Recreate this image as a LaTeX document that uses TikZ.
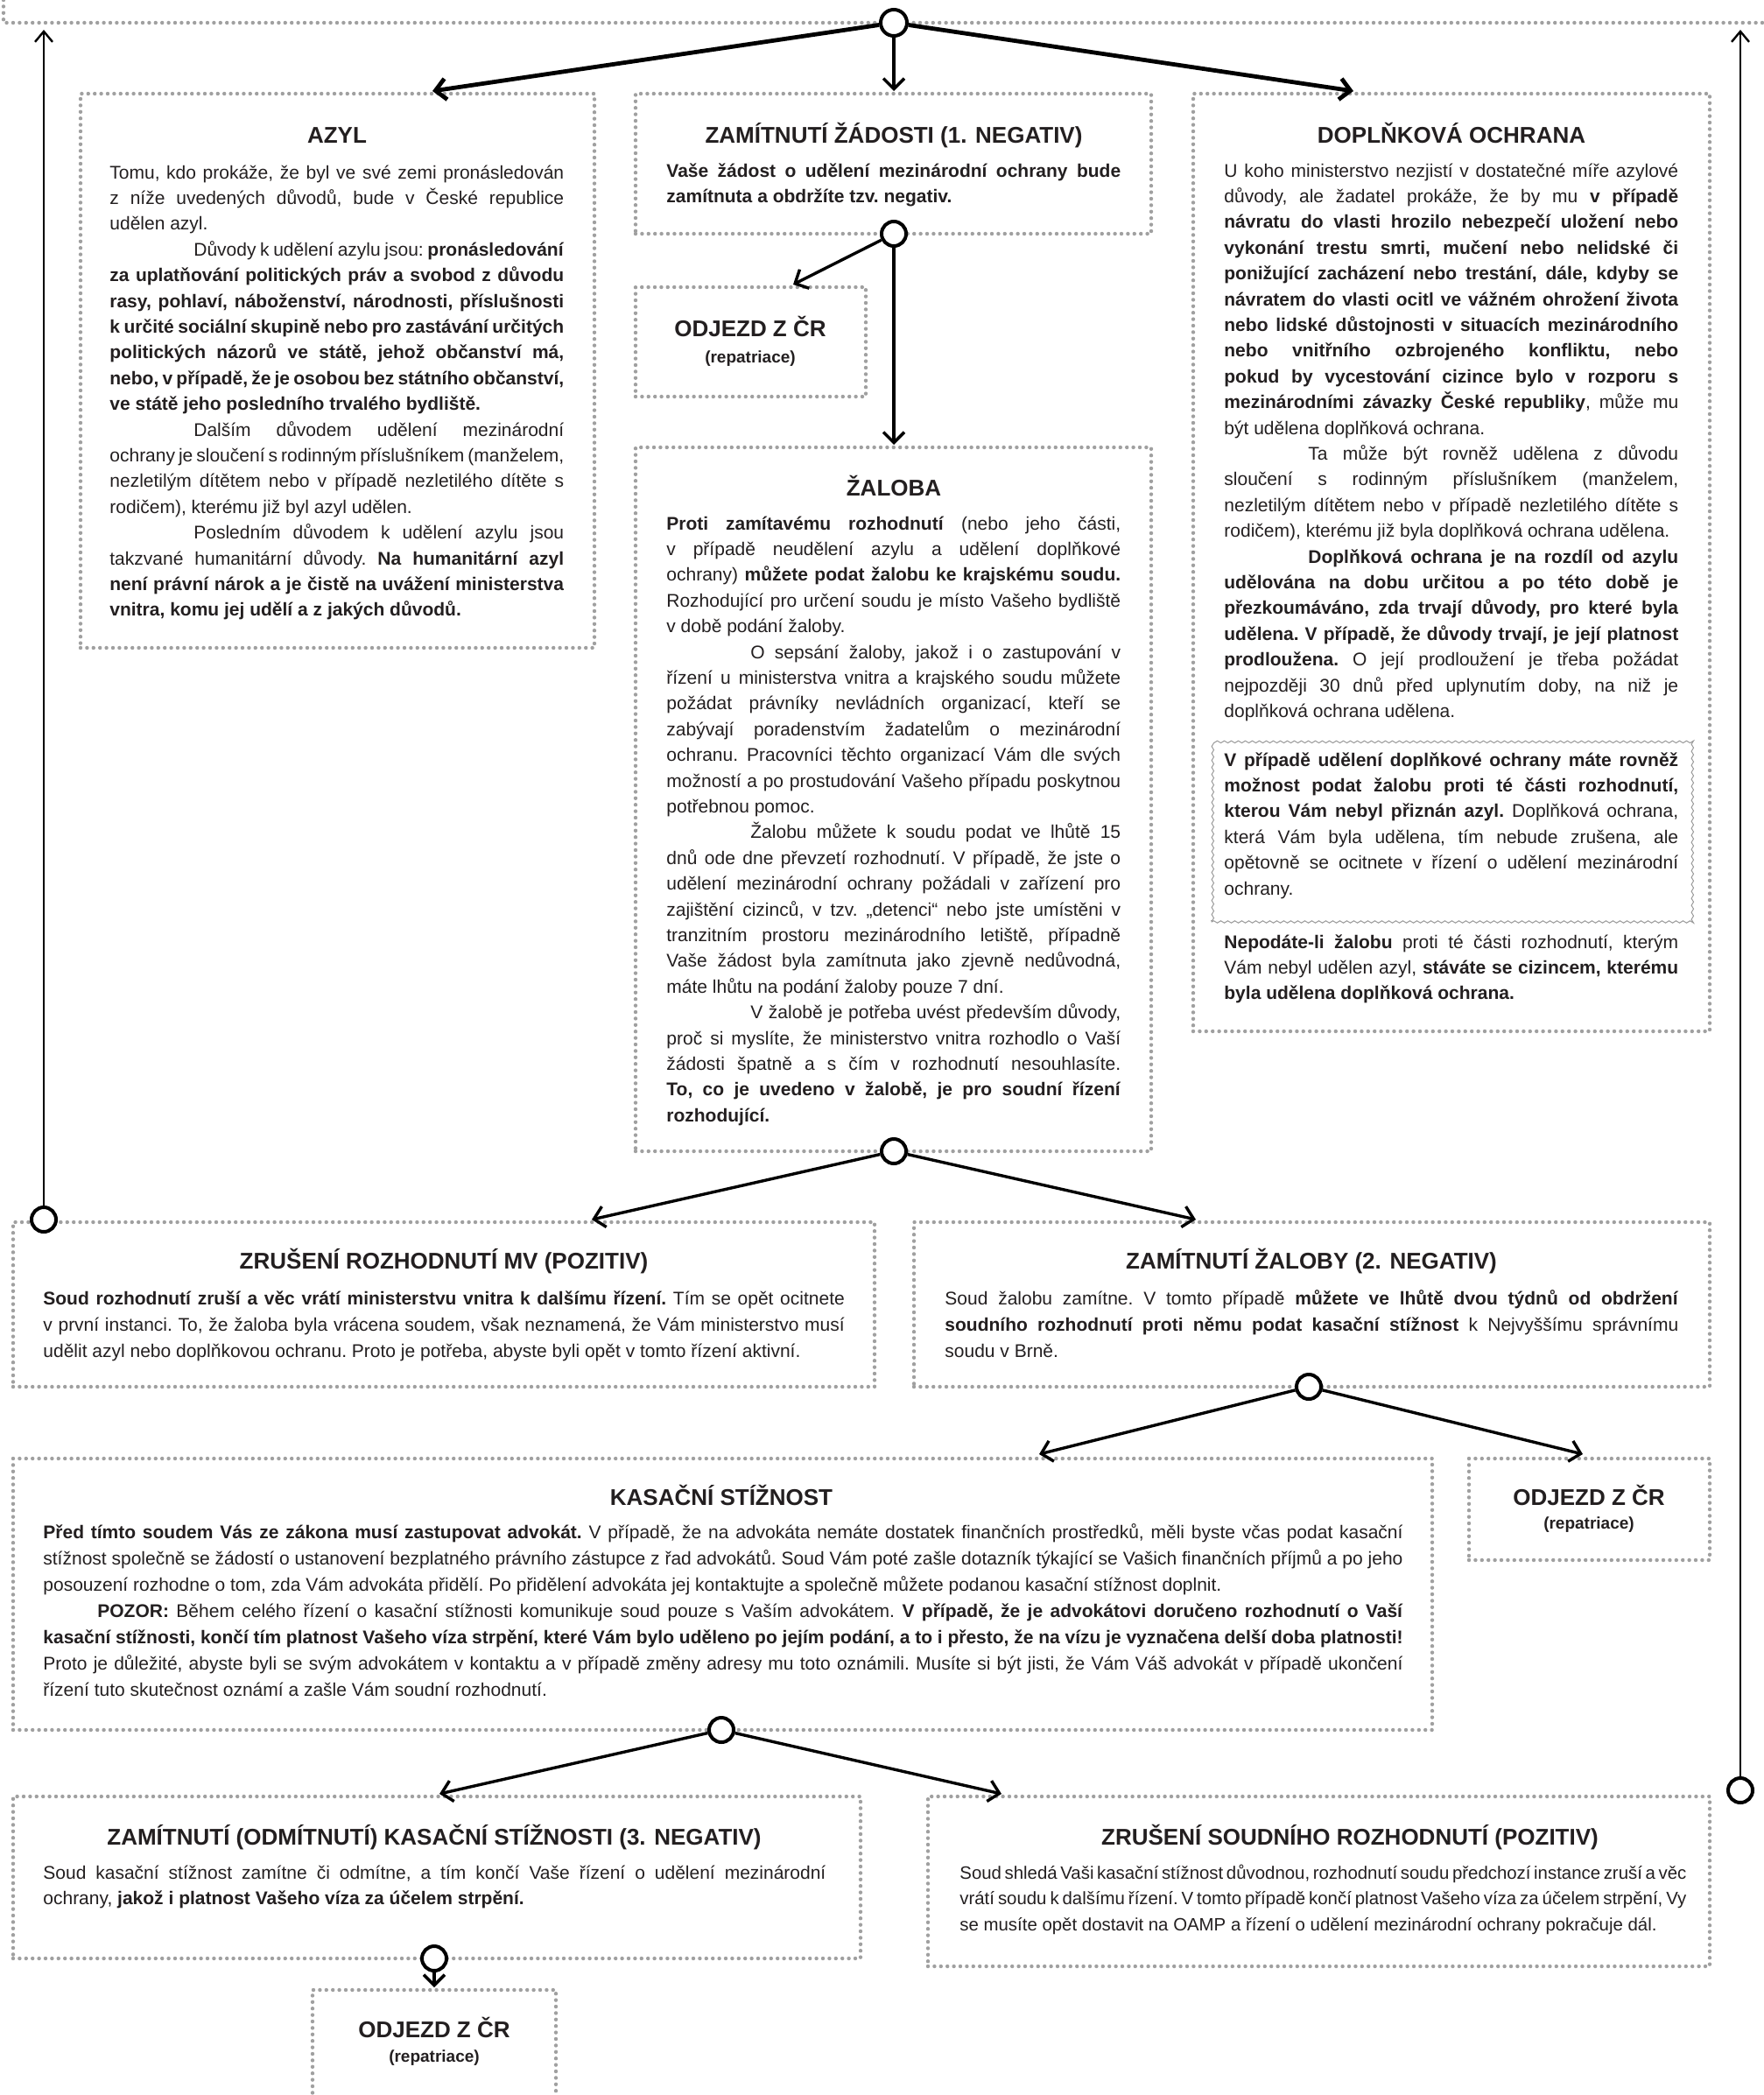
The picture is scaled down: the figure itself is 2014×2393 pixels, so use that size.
\documentclass[tikz,border=0pt]{standalone}
\usepackage{fontspec}
\setmainfont{Liberation Sans}
\usetikzlibrary{arrows.meta,fit,decorations.pathmorphing}
\definecolor{ink}{HTML}{231F20}
\definecolor{dotc}{HTML}{A0A0A0}
\newcommand\J[1]{\hbox to\hsize{#1}}
\newcommand\E[1]{\hbox{#1}}
\newcommand\JI[2][48pt]{\hbox to\hsize{\hskip#1\relax#2}}
\newcommand\EI[2][48pt]{\hbox{\hskip#1\relax#2}}
\newcommand\tb[2]{\vtop{\hsize=#1\relax#2}}
\tikzset{
  box/.style={draw=dotc, line width=2.2pt, dash pattern=on 0pt off 3.7pt, line cap=round, inner sep=0pt},
  ttl/.style={font=\bfseries\fontsize{13}{15}\selectfont, text=ink, anchor=base, inner sep=0pt},
  rep/.style={font=\bfseries\fontsize{9.5}{11}\selectfont, text=ink, anchor=base, inner sep=0pt},
  body/.style={font={\fontsize{10.5}{#1}\selectfont\frenchspacing\spaceskip=2.92pt plus 4pt minus 1.3pt\relax}, text=ink, anchor=base west, inner sep=0pt},
  body/.default=14.7pt,
  smallbody/.style={font={\fontsize{10.2}{#1}\selectfont\frenchspacing\spaceskip=2.84pt plus 4pt minus 1.2pt\relax}, text=ink, anchor=base west, inner sep=0pt},
  dot/.style={circle, draw=black, fill=white, line width=2pt, minimum size=14pt, inner sep=0pt},
  conn/.style={draw=black, line width=1.7pt, -{Straight Barb[length=6pt,width=12pt]}},
  bigconn/.style={draw=black, line width=2.4pt, -{Straight Barb[length=6pt,width=12pt]}},
  vconn/.style={draw=black, line width=1.2pt, -{Straight Barb[length=6pt,width=10pt]}},
  wavy/.style={draw=gray!80, line width=0.5pt, decorate, decoration={snake, amplitude=0.6pt, segment length=4pt}, inner sep=0pt}
}
\newcommand\bx[6][box]{\coordinate (#2-a) at (#3,#4); \coordinate (#2-b) at (#5,#6); \node[#1, fit=(#2-a)(#2-b)] (#2) {};}
\begin{document}
\begin{tikzpicture}[x=0.5pt,y=-0.5pt]
\useasboundingbox (0,0) rectangle (2014,2393);
\fill[white] (0,0) rectangle (2014,2393);
% cropped box above
\draw[box] (4,0) -- (4,26) -- (2030,26);
% boxes
\bx{azyl}{92}{107}{679}{740}
\bx{zam1}{726}{107}{1315}{267}
\bx{odj1}{726}{328}{989}{453}
\bx{zaloba}{726}{511}{1315}{1315}
\bx{dopl}{1363}{107}{1953}{1178}
\bx[wavy]{inner}{1384}{844}{1932}{1053}
\bx{zrusmv}{15}{1396}{999}{1584}
\bx{zamzal}{1044}{1396}{1953}{1584}
\bx{kasac}{15}{1666}{1636}{1976}
\bx{odj2}{1678}{1666}{1953}{1782}
\bx{zamkas}{15}{2052}{983}{2237}
\bx{zrussoud}{1060}{2052}{1953}{2246}
\draw[box] (357,2420) -- (357,2273) -- (635,2273) -- (635,2420);
\coordinate (odj3) at (496,2273);
% titles
\node[ttl] (tazyl) at (385,163) {AZYL};
\node[ttl] (tzam1) at (1021,163) {ZAMÍTNUTÍ ŽÁDOSTI (1. NEGATIV)};
\node[ttl] (todj1) at (857,384) {ODJEZD Z ČR};
\node[rep] (rodj1) at (857,414) {(repatriace)};
\node[ttl] (tzal) at (1021,566) {ŽALOBA};
\node[ttl] (tdopl) at (1658,163) {DOPLŇKOVÁ OCHRANA};
\node[ttl] (tzrusmv) at (507,1449) {ZRUŠENÍ ROZHODNUTÍ MV (POZITIV)};
\node[ttl] (tzamzal) at (1498,1449) {ZAMÍTNUTÍ ŽALOBY (2. NEGATIV)};
\node[ttl] (tkas) at (824,1719) {KASAČNÍ STÍŽNOST};
\node[ttl] (todj2) at (1815,1719) {ODJEZD Z ČR};
\node[rep] (rodj2) at (1815,1746) {(repatriace)};
\node[ttl] (tzamkas) at (496,2107) {ZAMÍTNUTÍ (ODMÍTNUTÍ) KASAČNÍ STÍŽNOSTI (3. NEGATIV)};
\node[ttl] (tzrussoud) at (1542,2107) {ZRUŠENÍ SOUDNÍHO ROZHODNUTÍ (POZITIV)};
\node[ttl] (todj3) at (496,2327) {ODJEZD Z ČR};
\node[rep] (rodj3) at (496,2355) {(repatriace)};
% texts
\node[body] (xazyl) at (125,204) {\tb{259.4pt}{%
\J{Tomu, kdo prokáže, že byl ve své zemi pronásledován}%
\J{z níže uvedených důvodů, bude v České republice}%
\E{udělen azyl.}%
\JI{Důvody k udělení azylu jsou: \textbf{pronásledování}}%
\J{\textbf{za uplatňování politických práv a svobod z důvodu}}%
\J{\textbf{rasy, pohlaví, náboženství, národnosti, příslušnosti}}%
\J{\textbf{k určité sociální skupině nebo pro zastávání určitých}}%
\J{\textbf{politických názorů ve státě, jehož občanství má,}}%
\J{\textbf{nebo, v případě, že je osobou bez státního občanství,}}%
\E{\textbf{ve státě jeho posledního trvalého bydliště.}}%
\JI{Dalším důvodem udělení mezinárodní}%
\J{ochrany je sloučení s rodinným příslušníkem (manželem,}%
\J{nezletilým dítětem nebo v případě nezletilého dítěte s}%
\E{rodičem), kterému již byl azyl udělen.}%
\JI{Posledním důvodem k udělení azylu jsou}%
\J{takzvané humanitární důvody. \textbf{Na humanitární azyl}}%
\J{\textbf{není právní nárok a je čistě na uvážení ministerstva}}%
\E{\textbf{vnitra, komu jej udělí a z jakých důvodů.}}}};
\node[body] (xzam1) at (761,202) {\tb{259.4pt}{%
\J{\textbf{Vaše žádost o udělení mezinárodní ochrany bude}}%
\E{\textbf{zamítnuta a obdržíte tzv. negativ.}}}};
\node[body] (xzal) at (761,605) {\tb{259.4pt}{%
\J{\textbf{Proti zamítavému rozhodnutí} (nebo jeho části,}%
\J{v případě neudělení azylu a udělení doplňkové}%
\J{ochrany) \textbf{můžete podat žalobu ke krajskému soudu.}}%
\J{Rozhodující pro určení soudu je místo Vašeho bydliště}%
\E{v době podání žaloby.}%
\JI{O sepsání žaloby, jakož i o zastupování v}%
\J{řízení u ministerstva vnitra a krajského soudu můžete}%
\J{požádat právníky nevládních organizací, kteří se}%
\J{zabývají poradenstvím žadatelům o mezinárodní}%
\J{ochranu. Pracovníci těchto organizací Vám dle svých}%
\J{možností a po prostudování Vašeho případu poskytnou}%
\E{potřebnou pomoc.}%
\JI{Žalobu můžete k soudu podat ve lhůtě 15}%
\J{dnů ode dne převzetí rozhodnutí. V případě, že jste o}%
\J{udělení mezinárodní ochrany požádali v zařízení pro}%
\J{zajištění cizinců, v tzv. „detenci“ nebo jste umístěni v}%
\J{tranzitním prostoru mezinárodního letiště, případně}%
\J{Vaše žádost byla zamítnuta jako zjevně nedůvodná,}%
\E{máte lhůtu na podání žaloby pouze 7 dní.}%
\JI{V žalobě je potřeba uvést především důvody,}%
\J{proč si myslíte, že ministerstvo vnitra rozhodlo o Vaší}%
\J{žádosti špatně a s čím v rozhodnutí nesouhlasíte.}%
\J{\textbf{To, co je uvedeno v žalobě, je pro soudní řízení}}%
\E{\textbf{rozhodující.}}}};
\node[body] (xdopl) at (1398,202) {\tb{259.4pt}{%
\J{U koho ministerstvo nezjistí v dostatečné míře azylové}%
\J{důvody, ale žadatel prokáže, že by mu \textbf{v případě}}%
\J{\textbf{návratu do vlasti hrozilo nebezpečí uložení nebo}}%
\J{\textbf{vykonání trestu smrti, mučení nebo nelidské či}}%
\J{\textbf{ponižující zacházení nebo trestání, dále, kdyby se}}%
\J{\textbf{návratem do vlasti ocitl ve vážném ohrožení života}}%
\J{\textbf{nebo lidské důstojnosti v situacích mezinárodního}}%
\J{\textbf{nebo vnitřního ozbrojeného konfliktu, nebo}}%
\J{\textbf{pokud by vycestování cizince bylo v rozporu s}}%
\J{\textbf{mezinárodními závazky České republiky}, může mu}%
\E{být udělena doplňková ochrana.}%
\JI{Ta může být rovněž udělena z důvodu}%
\J{sloučení s rodinným příslušníkem (manželem,}%
\J{nezletilým dítětem nebo v případě nezletilého dítěte s}%
\E{rodičem), kterému již byla doplňková ochrana udělena.}%
\JI{\textbf{Doplňková ochrana je na rozdíl od azylu}}%
\J{\textbf{udělována na dobu určitou a po této době je}}%
\J{\textbf{přezkoumáváno, zda trvají důvody, pro které byla}}%
\J{\textbf{udělena. V případě, že důvody trvají, je její platnost}}%
\J{\textbf{prodloužena.} O její prodloužení je třeba požádat}%
\J{nejpozději 30 dnů před uplynutím doby, na niž je}%
\E{doplňková ochrana udělena.}}};
\node[body] (xinner) at (1398,875) {\tb{259.4pt}{%
\J{\textbf{V případě udělení doplňkové ochrany máte rovněž}}%
\J{\textbf{možnost podat žalobu proti té části rozhodnutí,}}%
\J{\textbf{kterou Vám nebyl přiznán azyl.} Doplňková ochrana,}%
\J{která Vám byla udělena, tím nebude zrušena, ale}%
\J{opětovně se ocitnete v řízení o udělení mezinárodní}%
\E{ochrany.}}};
\node[body] (xnepod) at (1398,1083) {\tb{259.4pt}{%
\J{\textbf{Nepodáte-li žalobu} proti té části rozhodnutí, kterým}%
\J{Vám nebyl udělen azyl, \textbf{stáváte se cizincem, kterému}}%
\E{\textbf{byla udělena doplňková ochrana.}}}};
\node[body=15.2pt] (xzrusmv) at (49,1490) {\tb{457.7pt}{%
\J{\textbf{Soud rozhodnutí zruší a věc vrátí ministerstvu vnitra k dalšímu řízení.} Tím se opět ocitnete}%
\J{v první instanci. To, že žaloba byla vrácena soudem, však neznamená, že Vám ministerstvo musí}%
\E{udělit azyl nebo doplňkovou ochranu. Proto je potřeba, abyste byli opět v tomto řízení aktivní.}}};
\node[body=15.2pt] (xzamzal) at (1079,1490) {\tb{418.9pt}{%
\J{Soud žalobu zamítne. V tomto případě \textbf{můžete ve lhůtě dvou týdnů od obdržení}}%
\J{\textbf{soudního rozhodnutí proti němu podat kasační stížnost} k Nejvyššímu správnímu}%
\E{soudu v Brně.}}};
\node[body=15pt] (xkas) at (49,1757) {\tb{776.6pt}{%
\J{\textbf{Před tímto soudem Vás ze zákona musí zastupovat advokát.} V případě, že na advokáta nemáte dostatek finančních prostředků, měli byste včas podat kasační}%
\J{stížnost společně se žádostí o ustanovení bezplatného právního zástupce z řad advokátů. Soud Vám poté zašle dotazník týkající se Vašich finančních příjmů a po jeho}%
\E{posouzení rozhodne o tom, zda Vám advokáta přidělí. Po přidělení advokáta jej kontaktujte a společně můžete podanou kasační stížnost doplnit.}%
\JI[31pt]{\textbf{POZOR:} Během celého řízení o kasační stížnosti komunikuje soud pouze s Vaším advokátem. \textbf{V případě, že je advokátovi doručeno rozhodnutí o Vaší}}%
\J{\textbf{kasační stížnosti, končí tím platnost Vašeho víza strpění, které Vám bylo uděleno po jejím podání, a to i přesto, že na vízu je vyznačena delší doba platnosti!}}%
\J{Proto je důležité, abyste byli se svým advokátem v kontaktu a v případě změny adresy mu toto oznámili. Musíte si být jisti, že Vám Váš advokát v případě ukončení}%
\E{řízení tuto skutečnost oznámí a zašle Vám soudní rozhodnutí.}}};
\node[body=14.8pt] (xzamkas) at (49,2146) {\tb{447pt}{%
\J{Soud kasační stížnost zamítne či odmítne, a tím končí Vaše řízení o udělení mezinárodní}%
\E{ochrany, \textbf{jakož i platnost Vašeho víza za účelem strpění.}}}};
\node[smallbody=14.8pt] (xzrussoud) at (1096,2146) {\tb{415pt}{%
\J{Soud shledá Vaši kasační stížnost důvodnou, rozhodnutí soudu předchozí instance zruší a věc}%
\J{vrátí soudu k dalšímu řízení. V tomto případě končí platnost Vašeho víza za účelem strpění, Vy}%
\E{se musíte opět dostavit na OAMP a řízení o udělení mezinárodní ochrany pokračuje dál.}}};
% arrow end points
\coordinate (t1a) at (494,104);
\coordinate (t1b) at (1021,104);
\coordinate (t1c) at (1546,104);
\coordinate (t2a) at (906,325);
\coordinate (t2b) at (1021,508);
\coordinate (t3a) at (676,1393);
\coordinate (t3b) at (1366,1393);
\coordinate (t4a) at (1187,1661);
\coordinate (t4b) at (1808,1661);
\coordinate (t5a) at (502,2049);
\coordinate (t5b) at (1144,2049);
\coordinate (t6) at (496,2270);
\coordinate (t7) at (50,34);
\coordinate (t8) at (1988,34);
% circles
\node[dot, minimum size=15pt] (c1) at (1021,26) {};
\node[dot] (c2) at (1021,267) {};
\node[dot] (c3) at (1021,1315) {};
\node[dot] (c4) at (1495,1584) {};
\node[dot] (c5) at (824,1976) {};
\node[dot] (c6) at (496,2237) {};
\node[dot] (c7) at (50,1393) {};
\node[dot] (c8) at (1988,2045) {};
% connectors
\draw[bigconn] (c1) -- (t1a);
\draw[conn] (c1) -- (t1b);
\draw[bigconn] (c1) -- (t1c);
\draw[conn] (c2) -- (t2a);
\draw[conn] (c2) -- (t2b);
\draw[conn] (c3) -- (t3a);
\draw[conn] (c3) -- (t3b);
\draw[conn] (c4) -- (t4a);
\draw[conn] (c4) -- (t4b);
\draw[conn] (c5) -- (t5a);
\draw[conn] (c5) -- (t5b);
\draw[conn] (c6) -- (t6);
\draw[vconn] (c7) -- (t7);
\draw[vconn] (c8) -- (t8);
\end{tikzpicture}
\end{document}
